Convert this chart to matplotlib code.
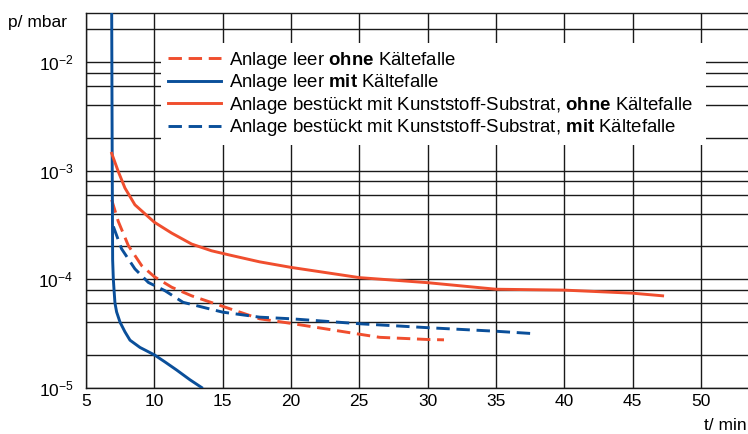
import matplotlib
matplotlib.use("Agg")
from matplotlib import pyplot as plt
from matplotlib.patches import Rectangle


RED = "#f04e2e"
BLUE = "#0a4f9a"
GRID = "#1a1a1a"

# Anlage leer ohne Kältefalle
red_dash_t = [6.88, 7.36, 8.1, 9.07, 10.0, 11.27, 12.73, 15.0, 17.7, 20.0, 25.0, 26.5, 30.0, 31.2]
red_dash_p = [5.37e-4, 3.4e-4, 2.03e-4, 1.33e-4, 1.05e-4, 8.4e-5, 7.0e-5, 5.6e-5, 4.3e-5, 3.9e-5, 3.1e-5, 2.9e-5, 2.77e-5, 2.75e-5]

# Anlage leer mit Kältefalle
blue_solid_t = [6.88, 6.92, 6.95, 7.0, 7.05, 7.12, 7.24, 7.49, 7.85, 8.22, 8.95, 10.0, 10.78, 11.63, 12.6, 13.46]
blue_solid_p = [3e-2, 1e-3, 1.5e-4, 1e-4, 8e-5, 6e-5, 4.97e-5, 4e-5, 3.26e-5, 2.73e-5, 2.34e-5, 2e-5, 1.72e-5, 1.45e-5, 1.18e-5, 1e-5]

# Anlage bestückt, ohne Kältefalle
red_solid_t = [6.88, 7.36, 7.85, 8.58, 10.0, 11.27, 12.73, 14.19, 15.54, 17.7, 20.0, 25.0, 30.0, 35.0, 40.0, 45.0, 47.2]
red_solid_p = [1.44e-3, 9.8e-4, 6.9e-4, 4.83e-4, 3.34e-4, 2.65e-4, 2.1e-4, 1.82e-4, 1.66e-4, 1.44e-4, 1.28e-4, 1.03e-4, 9.25e-5, 8.05e-5, 7.9e-5, 7.4e-5, 7.0e-5]

# Anlage bestückt, mit Kältefalle
blue_dash_t = [7.0, 7.6, 8.58, 9.56, 10.78, 12.1, 15.0, 17.7, 20.0, 25.0, 30.0, 35.0, 37.7]
blue_dash_p = [3.05e-4, 1.9e-4, 1.24e-4, 9.3e-5, 7.8e-5, 6.1e-5, 4.95e-5, 4.45e-5, 4.3e-5, 3.87e-5, 3.56e-5, 3.3e-5, 3.14e-5]

labels = [
    r"Anlage leer $\mathbf{ohne}$ Kältefalle",
    r"Anlage leer $\mathbf{mit}$ Kältefalle",
    r"Anlage bestückt mit Kunststoff-Substrat, $\mathbf{ohne}$ Kältefalle",
    r"Anlage bestückt mit Kunststoff-Substrat, $\mathbf{mit}$ Kältefalle",
]

x_ticks = [5, 10, 15, 20, 25, 30, 35, 40, 45, 50]
y_ticks = [1e-5, 1e-4, 1e-3, 1e-2]
y_tick_labels = [r"$10^{-5}$", r"$10^{-4}$", r"$10^{-3}$", r"$10^{-2}$"]
y_minor = [2e-5, 4e-5, 6e-5, 8e-5, 2e-4, 4e-4, 6e-4, 8e-4,
           2e-3, 4e-3, 6e-3, 8e-3, 2e-2]

plt.rcParams["font.family"] = ["Liberation Sans", "DejaVu Sans"]
plt.rcParams["mathtext.fontset"] = "custom"
plt.rcParams["mathtext.rm"] = "Liberation Sans"
plt.rcParams["mathtext.it"] = "Liberation Sans:italic"
plt.rcParams["mathtext.bf"] = "Liberation Sans:bold"

W, H = 748, 434
fig = plt.figure(figsize=(W / 100, H / 100), dpi=100)
ax = fig.add_axes([86 / W, (H - 387.5) / H, 1 - 86 / W, (387.5 - 13) / H])

ax.set_yscale("log")
ax.set_xticks(x_ticks)
ax.set_xticklabels([str(t) for t in x_ticks], fontsize=12.5)
ax.set_yticks(y_ticks)
ax.set_yticklabels(y_tick_labels, fontsize=12.5)
ax.set_yticks(y_minor, minor=True)
ax.yaxis.set_minor_formatter(plt.NullFormatter())
ax.tick_params(axis="both", which="both", length=0)
ax.tick_params(axis="x", pad=5)
ax.tick_params(axis="y", pad=9)

ax.grid(True, which="major", axis="both", color=GRID, lw=1.0)
ax.grid(True, which="minor", axis="y", color=GRID, lw=1.0)
for side in ["left", "bottom", "top"]:
    ax.spines[side].set_color(GRID)
    ax.spines[side].set_linewidth(1.0)
ax.spines["right"].set_visible(False)

lw = 2.1
dash = (4.6, 2.3)
l1, = ax.plot(red_dash_t, red_dash_p, color=RED, lw=lw, dashes=dash, zorder=3)
l2, = ax.plot(blue_solid_t, blue_solid_p, color=BLUE, lw=lw, zorder=3)
l3, = ax.plot(red_solid_t, red_solid_p, color=RED, lw=lw, zorder=3)
l4, = ax.plot(blue_dash_t, blue_dash_p, color=BLUE, lw=lw, dashes=dash, zorder=3)

ax.set_xlim(5, 53.45)
ax.set_ylim(1e-5, 2.83e-2)

# white box behind the legend, hides the grid
box = Rectangle((161 / W, (H - 145) / H), 545 / W, 102 / H, transform=fig.transFigure,
                facecolor="white", edgecolor="none", zorder=2.5, clip_on=False)
ax.add_patch(box)

leg = ax.legend([l1, l2, l3, l4], labels, loc="upper left",
                bbox_to_anchor=(168 / W, (H - 50) / H), bbox_transform=fig.transFigure,
                frameon=False, fontsize=13.4, handlelength=2.85, handletextpad=0.45,
                labelspacing=0.08, borderpad=0, borderaxespad=0)
leg.set_zorder(5)

fig.text(8 / W, 1 - 22 / H, "p/ mbar", fontsize=12.5, ha="left", va="center")
fig.text(747 / W, 1 - 426 / H, "t/ min", fontsize=12.5, ha="right", va="center")

plt.savefig("out.png", dpi=100)
